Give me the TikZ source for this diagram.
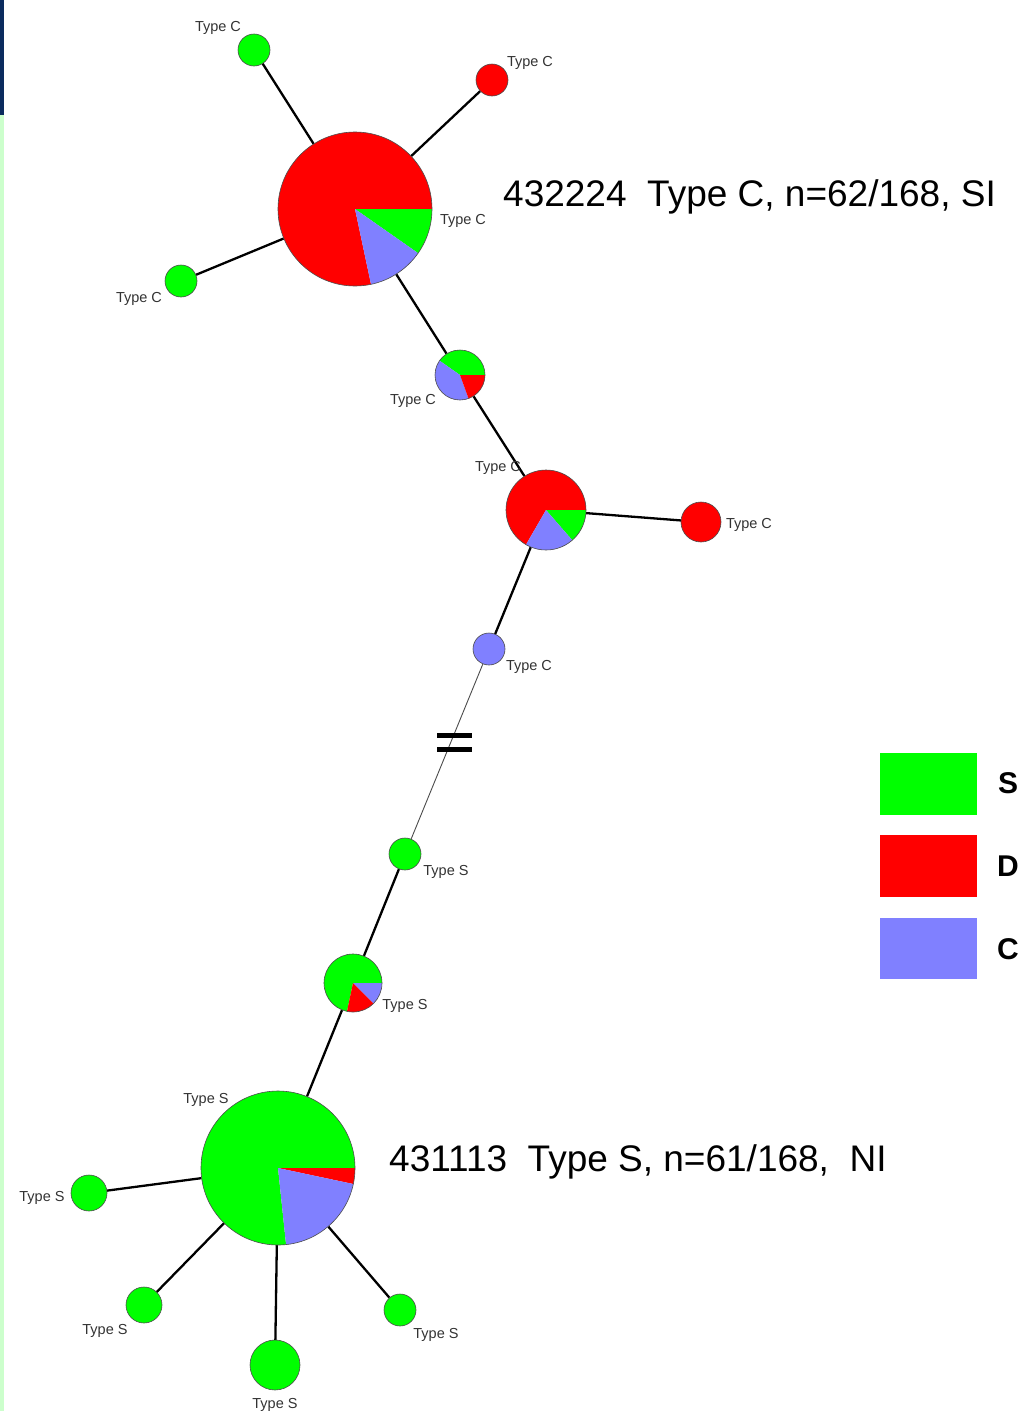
\documentclass[tikz,border=0pt]{standalone}
\usepackage{fontspec}
\setmainfont{Liberation Sans}
\definecolor{cS}{HTML}{00FF00}
\definecolor{cD}{HTML}{FF0000}
\definecolor{cC}{HTML}{8080FF}
\definecolor{navy}{HTML}{0B2B5E}
\definecolor{lgreen}{HTML}{CCFFCC}
\newcommand{\pslice}[5]{\fill[#5] (#1) -- ++(#3:#2) arc[start angle=#3, end angle=#4, radius=#2] -- cycle;}
\begin{document}
\begin{tikzpicture}[x=1pt,y=-1pt,
  vert/.style={circle, inner sep=0pt, minimum size=#1},
  edge/.style={line width=2.3pt, black},
  thinedge/.style={line width=0.9pt, black!70},
  outl/.style={draw=black!70, line width=0.6pt},
  lbl/.style={font=\fontsize{14.5}{17}\selectfont, text=black!80, inner sep=0pt, yshift=-2pt},
  big/.style={font=\fontsize{37}{42}\selectfont, inner sep=0pt, anchor=base west},
  leg/.style={font=\bfseries\fontsize{30}{34}\selectfont, inner sep=0pt}]
\useasboundingbox (0,0) rectangle (1031,1411);
\fill[white] (0,0) rectangle (1031,1411);
\fill[navy] (0,0) rectangle (4,115);
\fill[lgreen] (0,115) rectangle (4,1411);
% vertices
\node[vert=154pt] (T) at (355,209) {};
\node[vert=32pt] (g1) at (254,50) {};
\node[vert=32pt] (r1) at (492,80) {};
\node[vert=32pt] (g2) at (181,281) {};
\node[vert=50pt] (P1) at (460,375) {};
\node[vert=80pt] (P2) at (546,510) {};
\node[vert=40pt] (r2) at (701,522) {};
\node[vert=32pt] (b1) at (489,649) {};
\node[vert=32pt] (g3) at (405,854) {};
\node[vert=58pt] (P3) at (353,983) {};
\node[vert=154pt] (B) at (278,1168) {};
\node[vert=36pt] (s1) at (89,1193) {};
\node[vert=36pt] (s2) at (144,1305) {};
\node[vert=50pt] (s3) at (275,1365) {};
\node[vert=32pt] (s4) at (400,1310) {};
% edges
\draw[edge] (T) -- (g1);
\draw[edge] (T) -- (r1);
\draw[edge] (T) -- (g2);
\draw[edge] (T) -- (P1);
\draw[edge] (P1) -- (P2);
\draw[edge] (P2) -- (r2);
\draw[edge] (P2) -- (b1);
\draw[thinedge] (b1) -- (g3);
\draw[edge] (g3) -- (P3);
\draw[edge] (P3) -- (B);
\draw[edge] (B) -- (s1);
\draw[edge] (B) -- (s2);
\draw[edge] (B) -- (s3);
\draw[edge] (B) -- (s4);
% break mark
\fill[black] (437,733) rectangle (472,738);
\fill[black] (437,747) rectangle (472,752);
% pies
\pslice{T.center}{77pt}{0}{282}{cD}
\pslice{T.center}{77pt}{-35}{0}{cS}
\pslice{T.center}{77pt}{-78}{-35}{cC}
\draw[outl] (T.center) circle[radius=77pt];
\pslice{P1.center}{25pt}{0}{145}{cS}
\pslice{P1.center}{25pt}{145}{290}{cC}
\pslice{P1.center}{25pt}{-70}{0}{cD}
\draw[outl] (P1.center) circle[radius=25pt];
\pslice{P2.center}{40pt}{0}{240}{cD}
\pslice{P2.center}{40pt}{-49}{0}{cS}
\pslice{P2.center}{40pt}{-120}{-49}{cC}
\draw[outl] (P2.center) circle[radius=40pt];
\pslice{P3.center}{29pt}{0}{258}{cS}
\pslice{P3.center}{29pt}{-45}{0}{cC}
\pslice{P3.center}{29pt}{-102}{-45}{cD}
\draw[outl] (P3.center) circle[radius=29pt];
\pslice{B.center}{77pt}{0}{276}{cS}
\pslice{B.center}{77pt}{-12}{0}{cD}
\pslice{B.center}{77pt}{-84}{-12}{cC}
\draw[outl] (B.center) circle[radius=77pt];
% single-colour vertices
\fill[cS] (g1.center) circle[radius=16pt]; \draw[outl] (g1.center) circle[radius=16pt];
\fill[cD] (r1.center) circle[radius=16pt]; \draw[outl] (r1.center) circle[radius=16pt];
\fill[cS] (g2.center) circle[radius=16pt]; \draw[outl] (g2.center) circle[radius=16pt];
\fill[cD] (r2.center) circle[radius=20pt]; \draw[outl] (r2.center) circle[radius=20pt];
\fill[cC] (b1.center) circle[radius=16pt]; \draw[outl] (b1.center) circle[radius=16pt];
\fill[cS] (g3.center) circle[radius=16pt]; \draw[outl] (g3.center) circle[radius=16pt];
\fill[cS] (s1.center) circle[radius=18pt]; \draw[outl] (s1.center) circle[radius=18pt];
\fill[cS] (s2.center) circle[radius=18pt]; \draw[outl] (s2.center) circle[radius=18pt];
\fill[cS] (s3.center) circle[radius=25pt]; \draw[outl] (s3.center) circle[radius=25pt];
\fill[cS] (s4.center) circle[radius=16pt]; \draw[outl] (s4.center) circle[radius=16pt];
% small labels
\node[lbl] (l1) at (218,26) {Type C};
\node[lbl] (l2) at (530,61) {Type C};
\node[lbl] (l3) at (463,219) {Type C};
\node[lbl] (l4) at (139,297) {Type C};
\node[lbl] (l5) at (413,399) {Type C};
\node[lbl] (l6) at (498,466) {Type C};
\node[lbl] (l7) at (749,523) {Type C};
\node[lbl] (l8) at (529,665) {Type C};
\node[lbl] (l9) at (446,870) {Type S};
\node[lbl] (l10) at (405,1004) {Type S};
\node[lbl] (l11) at (206,1098) {Type S};
\node[lbl] (l12) at (42,1196) {Type S};
\node[lbl] (l13) at (105,1329) {Type S};
\node[lbl] (l14) at (275,1403) {Type S};
\node[lbl] (l15) at (436,1333) {Type S};
% big labels
\node[big] (t1) at (503,206) {432224\ \ Type C, n=62/168, SI};
\node[big] (t2) at (389,1171) {431113\ \ Type S, n=61/168,\ \ NI};
% legend
\fill[cS] (880,753) rectangle (977,815);
\fill[cD] (880,835) rectangle (977,897);
\fill[cC] (880,918) rectangle (977,979);
\node[leg] (kS) at (1008,783) {S};
\node[leg] (kD) at (1008,866) {D};
\node[leg] (kC) at (1008,949) {C};
\end{tikzpicture}
\end{document}
